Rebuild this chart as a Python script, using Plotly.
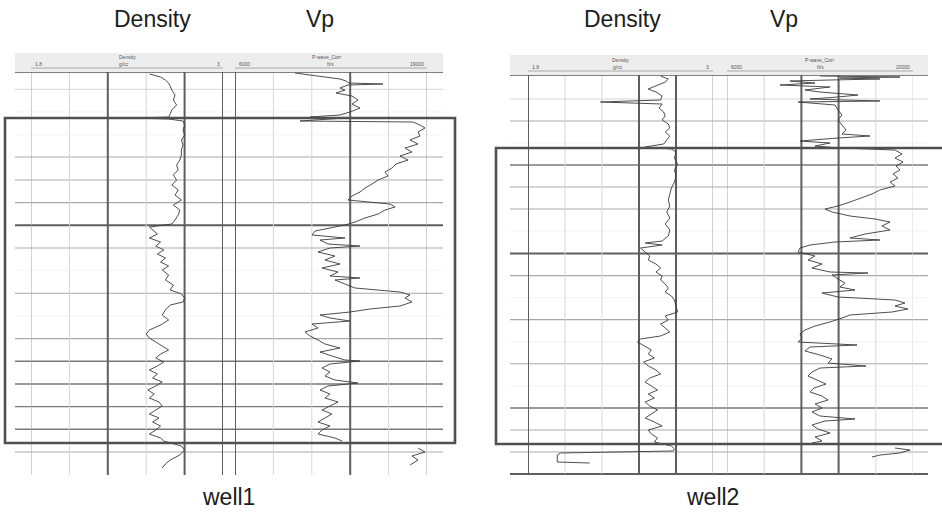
import plotly.graph_objects as go

# ---------------- data ----------------
# Well 1 : depth (m) and log values
W1_DEN_DEPTH = [2001, 2002.5, 2004, 2005.5, 2007, 2009, 2011.5, 2014, 2016.5, 2019, 2021, 2022.5, 2023, 2023.5,
                2024.5, 2026.5, 2029, 2031.5, 2034, 2036.5, 2039, 2041.5, 2044, 2046.5, 2049, 2051.5, 2054, 2056.5,
                2059, 2061.5, 2064, 2066.5, 2069, 2071.5, 2074, 2076, 2077.5, 2079, 2081, 2083, 2085, 2087, 2089,
                2091, 2093, 2095, 2097, 2099, 2101.5, 2104, 2106.5, 2109, 2111, 2113, 2115, 2116.5, 2119, 2121.5,
                2124, 2126.5, 2129, 2131, 2133, 2135, 2137, 2139, 2141, 2143, 2145, 2147, 2149, 2151, 2153, 2155,
                2157, 2159, 2161, 2163, 2165, 2167, 2169, 2171, 2173, 2175, 2177, 2179, 2181, 2183, 2184.5,
                2187, 2189, 2191.5, 2194, 2196, 2198]
W1_DEN = [2.54, 2.61, 2.64, 2.66, 2.67, 2.68, 2.70, 2.69, 2.71, 2.68, 2.67, 2.66, 2.45, 2.66,
          2.75, 2.76, 2.75, 2.76, 2.74, 2.75, 2.74, 2.74, 2.73, 2.71, 2.72, 2.69, 2.71, 2.68,
          2.72, 2.70, 2.74, 2.69, 2.73, 2.72, 2.70, 2.68, 2.54, 2.56, 2.59, 2.54, 2.61, 2.58, 2.63,
          2.59, 2.64, 2.61, 2.66, 2.62, 2.66, 2.64, 2.69, 2.67, 2.74, 2.76, 2.75, 2.67, 2.64, 2.62,
          2.66, 2.61, 2.54, 2.52, 2.54, 2.58, 2.62, 2.66, 2.61, 2.58, 2.63, 2.59, 2.54, 2.59, 2.56, 2.62,
          2.58, 2.53, 2.57, 2.54, 2.60, 2.62, 2.58, 2.54, 2.60, 2.56, 2.61, 2.58, 2.54, 2.61, 2.63,
          2.74, 2.76, 2.73, 2.67, 2.64, 2.62]

W1_VP_DEPTH = [2000.5, 2001.5, 2002.5, 2003.5, 2004.5, 2005.5, 2006, 2006.5, 2008, 2009, 2010.5, 2012, 2014,
               2016, 2018, 2020, 2021.5, 2022.5, 2023, 2024.5, 2025, 2026.5, 2028, 2030, 2032, 2034, 2036, 2038,
               2040, 2042, 2044, 2046, 2048, 2050, 2052, 2054, 2056, 2058, 2060, 2062, 2064, 2066, 2067.5, 2069,
               2071, 2073, 2075, 2076.5, 2078, 2079.5, 2081.5, 2083, 2084, 2086, 2087, 2088, 2090, 2092, 2094,
               2096, 2098, 2100, 2102, 2103, 2104, 2106, 2108, 2110, 2111.5, 2113, 2115, 2117, 2118.5, 2120,
               2121.5, 2123, 2124.5, 2126, 2128, 2130, 2132, 2134, 2136, 2138, 2140, 2142, 2144, 2144.5, 2146,
               2148, 2150, 2152, 2154, 2155.5, 2157, 2159, 2161, 2163, 2165, 2167, 2169, 2171, 2173, 2175, 2177,
               2179, 2181, 2183, 2184.5, None, 2188, 2190, 2192, 2194, 2196.5]
W1_VP = [10375, 11470, 12925, 13655, 14095, 14310, 16790, 14240, 13655, 14020, 13365, 14530, 14970,
         14530, 15115, 14385, 13655, 11470, 14020, 10740, 18980, 19490, 19855, 19345, 19490, 18760, 19345, 18395,
         18905, 18030, 18615, 17740, 17450, 16940, 17160, 16430, 15990, 15480, 15115, 14530, 14240, 17300, 17665, 16940,
         16430, 15480, 14750, 14020, 12925, 11835, 11615, 14020, 12200, 12780, 15115, 12925, 12050, 13290, 12560,
         13655, 12345, 13510, 12925, 15115, 13290, 14020, 14750, 18030, 18760, 18395, 18905, 18030, 15845, 14385,
         12200, 12925, 14385, 11615, 12050, 11105, 11470, 12050, 12560, 13655, 12200, 13070, 14020, 15115, 12925,
         12345, 12925, 12560, 13290, 14970, 12780, 12200, 12925, 12560, 13510, 12925, 12345, 13070, 12560, 12050, 12925,
         12345, 12050, 13290, 13800, None, 19345, 19855, 18905, 19345, 18760]

# Well 2
W2_DEN_DEPTH = [3000.5, 3002, 3003.5, 3005.5, 3007, 3008.5, 3010.5, 3012.5, 3013.5, 3014.5, 3016.5, 3018.5, 3020.5,
                3022.5, 3024.5, 3026.5, 3028.5, 3030.5, 3032.5, 3034.5, 3036, 3037, 3038.5, 3041.5, 3044.5, 3047.5,
                3050.5, 3053.5, 3056.5, 3059.5, 3062.5, 3065.5, 3068.5, 3071.5, 3074.5, 3077.5, 3080.5, 3083, 3084,
                3085, 3086.5, 3088.5, 3090.5, 3092.5, 3094.5, 3096.5, 3098.5, 3100.5, 3102.5, 3104.5, 3106.5, 3108.5,
                3110.5, 3112.5, 3115.5, 3118.5, 3120.5, 3122.5, 3124.5, 3126.5, 3128.5, 3130.5, 3132, 3133.5, 3135.5,
                3137.5, 3139.5, 3141.5, 3143.5, 3145.5, 3147.5, 3149.5, 3151.5, 3153.5, 3155.5, 3157.5, 3159.5,
                3161.5, 3163.5, 3165.5, 3167.5, 3169.5, 3171.5, 3173.5, 3175.5, 3177.5, 3179.5, 3181.5, 3183.5,
                3185.5, 3187, 3188, 3189, 3190, 3193.5, 3194]
W2_DEN = [2.66, 2.71, 2.69, 2.62, 2.58, 2.63, 2.67, 2.66, 2.27, 2.67, 2.65, 2.68, 2.69,
          2.67, 2.71, 2.72, 2.69, 2.72, 2.70, 2.68, 2.56, 2.73, 2.76, 2.75, 2.77, 2.75,
          2.76, 2.75, 2.73, 2.72, 2.71, 2.72, 2.70, 2.72, 2.69, 2.72, 2.71, 2.67, 2.56,
          2.67, 2.53, 2.56, 2.59, 2.58, 2.63, 2.66, 2.63, 2.67, 2.66, 2.69, 2.71, 2.69,
          2.73, 2.75, 2.76, 2.77, 2.69, 2.71, 2.66, 2.69, 2.72, 2.66, 2.53, 2.51, 2.56,
          2.60, 2.58, 2.62, 2.55, 2.58, 2.63, 2.66, 2.59, 2.56, 2.60, 2.64, 2.58,
          2.62, 2.56, 2.59, 2.64, 2.60, 2.56, 2.62, 2.67, 2.58, 2.60, 2.64, 2.62,
          2.73, 2.75, 2.74, 2.01, 1.99, 1.99, 2.20]

W2_VP_DEPTH = [3000.5, 3001, 3001.5, 3002, 3002.5, 3003, 3004, 3005, 3006, 3007.5, 3008.5, 3010, 3011, 3012, 3013,
               3013.5, 3015, 3017.5, 3020, 3022.5, 3025, 3027.5, 3029.5, 3030.5, 3031.5, 3033, 3034, 3035.5, 3036.5,
               3037.5, 3039.5, 3041.5, 3043.5, 3045.5, 3047.5, 3049.5, 3051.5, 3053.5, 3055.5, 3057.5, 3059.5,
               3061.5, 3063.5, 3065.5, 3067, 3068.5, 3070.5, 3072, 3073.5, 3075.5, 3077.5, 3079.5, 3081.5, 3082.5,
               3083.5, 3085, 3086.5, 3088.5, 3090.5, 3092.5, 3094.5, 3096.5, 3098.5, 3099, 3100, 3102, 3104, 3106,
               3107.5, 3109, 3111, 3112.5, 3114, 3115.5, 3117, 3118.5, 3120, 3121.5, 3123.5, 3125.5, 3127.5, 3129.5,
               3131.5, 3133.5, 3135, 3136, 3138, 3140, 3142, 3144, 3145.5, 3146.5, 3148.5, 3150.5, 3152.5, 3154.5,
               3156.5, 3158.5, 3160.5, 3162.5, 3164.5, 3166.5, 3168.5, 3170.5, 3172, 3173, 3175, 3177, 3179, 3181,
               3183, 3184, None, 3186.5, 3187.5, 3189, 3190, 3191]
W2_VP = [13000, 19020, 14505, 17515, 13755, 10740, 12625, 9990, 13755, 11870, 12995, 15860, 14355, 12250, 17515,
         11345, 14130, 14355, 14655, 14355, 14655, 14955, 14655, 16765, 14355, 11495, 13755, 12625, 14505,
         18645, 19170, 18645, 19245, 18720, 19020, 18495, 18870, 18270, 18645, 17515, 16915,
         16160, 15260, 14355, 13375, 13905, 15260, 17140, 18270, 17665, 18270, 16390, 15260, 17515,
         14130, 12250, 11495, 11345, 12625, 12100, 13150, 12400, 13755, 16615, 13905, 14355, 14880, 14505,
         15635, 13150, 14355, 18645, 19395, 18645, 19620, 18420, 15260, 14655, 13755, 12625, 11870, 11495,
         11645, 11345, 15785, 12250, 11870, 12995, 13905, 13605, 16465, 12995, 12400, 12100, 12850, 13450,
         12550, 12250, 13150, 13605, 12625, 13150, 12400, 12995, 15635, 13375, 12400, 12850, 13755, 12625,
         13150, 12400, None, 18645, 19775, 19020, 17515, 16915]

# track scales and grid ticks
DEN_RANGE = [1.8, 3.0]
VP_RANGE = [6000, 20000]
DEN_TICKS = [1.8, 2.04, 2.28, 2.52, 2.76, 3.0]
VP_TICKS = [6000, 8800, 11600, 14400, 17200, 20000]
W1_DEPTH_RANGE = [2202, 2000]
W2_DEPTH_RANGE = [3200.5, 3000]
W1_GRID = [2008.65, 2020, 2031.35, 2042.5, 2054, 2065.3, 2076.65, 2088, 2099.3, 2110.65, 2122, 2133.3,
           2144.65, 2156, 2167.3, 2178.65, 2190]
W2_GRID = [3012, 3023, 3034, 3045, 3056, 3067, 3078, 3089.2, 3100.3, 3111.3, 3122.3, 3133.4, 3144.4,
           3155.4, 3166.5, 3177.5, 3188.5, 3199.5]
W1_ZONE = [2023, 2185.5]
W2_ZONE = [3036.5, 3184.5]

# ---------------- styling ----------------
W, H = 942, 514
def fx(x): return x / W
def fy(y): return 1 - y / H

STYLE = {0: ("#f0f0f0", 0.8), 1: ("#d6d6d6", 1), 2: ("#a9a9a9", 1.1), 3: ("#7a7a7a", 1.4), 4: ("#5e5e5e", 2)}
W1_GRID_LVL = [1, 0, 0, 2, 2, 2, 4, 2, 0, 2, 0, 2, 3, 3, 3, 3, 2]
W2_GRID_LVL = [1, 2, 0, 3, 2, 2, 0, 4, 2, 0, 2, 0, 2, 0, 3, 2, 2, 4]
W1_DEN_LVL = [2, 1, 4, 1, 4, 4]
W1_VP_LVL = [4, 1, 1, 4, 1, 2]
W2_DEN_LVL = [4, 1, 1, 4, 4, 2]
W2_VP_LVL = [2, 1, 4, 4, 1, 1]

fig = go.Figure()
curve = dict(color="#3a3a3a", width=0.9)
fig.add_trace(go.Scatter(x=W1_DEN, y=W1_DEN_DEPTH, xaxis="x2", yaxis="y", mode="lines", line=curve, connectgaps=False))
fig.add_trace(go.Scatter(x=W1_VP, y=W1_VP_DEPTH, xaxis="x3", yaxis="y", mode="lines", line=curve, connectgaps=False))
fig.add_trace(go.Scatter(x=W2_DEN, y=W2_DEN_DEPTH, xaxis="x5", yaxis="y2", mode="lines", line=curve, connectgaps=False))
fig.add_trace(go.Scatter(x=W2_VP, y=W2_VP_DEPTH, xaxis="x6", yaxis="y2", mode="lines", line=curve, connectgaps=False))

hidden = dict(showgrid=False, zeroline=False, showticklabels=False, ticks="", showline=False)
fig.update_layout(
    width=W, height=H, margin=dict(l=0, r=0, t=0, b=0),
    paper_bgcolor="white", plot_bgcolor="rgba(0,0,0,0)", showlegend=False,
    xaxis=dict(domain=[fx(15), fx(443)], range=[0, 1], anchor="y", **hidden),
    xaxis2=dict(domain=[fx(31), fx(223)], range=DEN_RANGE, anchor="y", **hidden),
    xaxis3=dict(domain=[fx(235), fx(427)], range=VP_RANGE, anchor="y", **hidden),
    xaxis4=dict(domain=[fx(510), fx(928)], range=[0, 1], anchor="y2", **hidden),
    xaxis5=dict(domain=[fx(528), fx(713)], range=DEN_RANGE, anchor="y2", **hidden),
    xaxis6=dict(domain=[fx(727), fx(913)], range=VP_RANGE, anchor="y2", **hidden),
    yaxis=dict(domain=[fy(476), fy(72)], range=W1_DEPTH_RANGE, anchor="x", **hidden),
    yaxis2=dict(domain=[fy(476), fy(75)], range=W2_DEPTH_RANGE, anchor="x4", **hidden),
)

shapes = []
# header bands
for x0, x1, y0, y1 in [(15, 443, 53, 72), (510, 928, 55, 75)]:
    shapes.append(dict(type="rect", xref="paper", yref="paper", x0=fx(x0), x1=fx(x1), y0=fy(y1), y1=fy(y0),
                       fillcolor="#ededed", line=dict(width=0), layer="below"))
# scale lines inside headers
for x0, x1, y in [(31, 223, 68), (235, 427, 68), (528, 713, 71), (727, 913, 71)]:
    shapes.append(dict(type="line", xref="paper", yref="paper", x0=fx(x0), x1=fx(x1), y0=fy(y), y1=fy(y),
                       line=dict(color="#9a9a9a", width=0.8)))

# horizontal grid (spanning each well panel)
for grid, lvls, (px0, px1), yr, top in [(W1_GRID, W1_GRID_LVL, (15, 443), "y", W1_DEPTH_RANGE[1]),
                                        (W2_GRID, W2_GRID_LVL, (510, 928), "y2", W2_DEPTH_RANGE[1])]:
    for d, lv in zip(grid, lvls):
        c, w = STYLE[lv]
        shapes.append(dict(type="line", xref="paper", yref=yr, x0=fx(px0), x1=fx(px1), y0=d, y1=d,
                           line=dict(color=c, width=w), layer="below"))
    shapes.append(dict(type="line", xref="paper", yref=yr, x0=fx(px0), x1=fx(px1), y0=top, y1=top,
                       line=dict(color="#555555", width=1.6)))

# vertical grid
for ticks, lvls, xr, yr, dr, bottom in [(DEN_TICKS, W1_DEN_LVL, "x2", "y", W1_DEPTH_RANGE, 2201.5),
                                        (VP_TICKS, W1_VP_LVL, "x3", "y", W1_DEPTH_RANGE, 2201.5),
                                        (DEN_TICKS, W2_DEN_LVL, "x5", "y2", W2_DEPTH_RANGE, 3199.5),
                                        (VP_TICKS, W2_VP_LVL, "x6", "y2", W2_DEPTH_RANGE, 3199.5)]:
    for t, lv in zip(ticks, lvls):
        c, w = STYLE[lv]
        shapes.append(dict(type="line", xref=xr, yref=yr, x0=t, x1=t, y0=dr[1], y1=bottom,
                           line=dict(color=c, width=w), layer="below"))

# zone boxes
shapes.append(dict(type="rect", xref="paper", yref="y", x0=fx(5), x1=fx(455), y0=W1_ZONE[0], y1=W1_ZONE[1],
                   line=dict(color="#505050", width=2.6)))
shapes.append(dict(type="rect", xref="paper", yref="y2", x0=fx(496), x1=fx(950), y0=W2_ZONE[0], y1=W2_ZONE[1],
                   line=dict(color="#505050", width=2.6)))
fig.update_layout(shapes=shapes)

ann = []
big = dict(family="Liberation Sans, Arial, sans-serif", size=23, color="#1c1c1c")
for text, x, y in [("Density", 152, 19), ("Vp", 320, 19), ("Density", 622, 19), ("Vp", 784, 19),
                   ("well1", 228, 497), ("well2", 712, 497)]:
    ann.append(dict(text=text, x=fx(x), y=fy(y), xref="paper", yref="paper", showarrow=False,
                    xanchor="center", yanchor="middle", font=big))
small = dict(family="Liberation Sans, Arial, sans-serif", size=5, color="#555555")
for text, x, y, anc in [("Density", 127, 57, "center"), ("g/cc", 124, 64, "center"),
                        ("1.8", 33, 64, "left"), ("3", 222, 64, "right"),
                        ("P-wave_Corr", 327, 57, "center"), ("ft/s", 330, 64, "center"),
                        ("6000", 237, 64, "left"), ("19000", 426, 64, "right"),
                        ("Density", 620, 60, "center"), ("g/cc", 618, 67, "center"),
                        ("1.8", 530, 67, "left"), ("3", 711, 67, "right"),
                        ("P-wave_Corr", 820, 60, "center"), ("ft/s", 820, 67, "center"),
                        ("6000", 729, 67, "left"), ("20000", 912, 67, "right")]:
    ann.append(dict(text=text, x=fx(x), y=fy(y), xref="paper", yref="paper", showarrow=False,
                    xanchor=anc, yanchor="middle", font=small))
fig.update_layout(annotations=ann)

fig.write_html("out.html", config={"displayModeBar": False},
               post_script="document.body.style.margin='0';document.body.style.overflow='hidden';")
